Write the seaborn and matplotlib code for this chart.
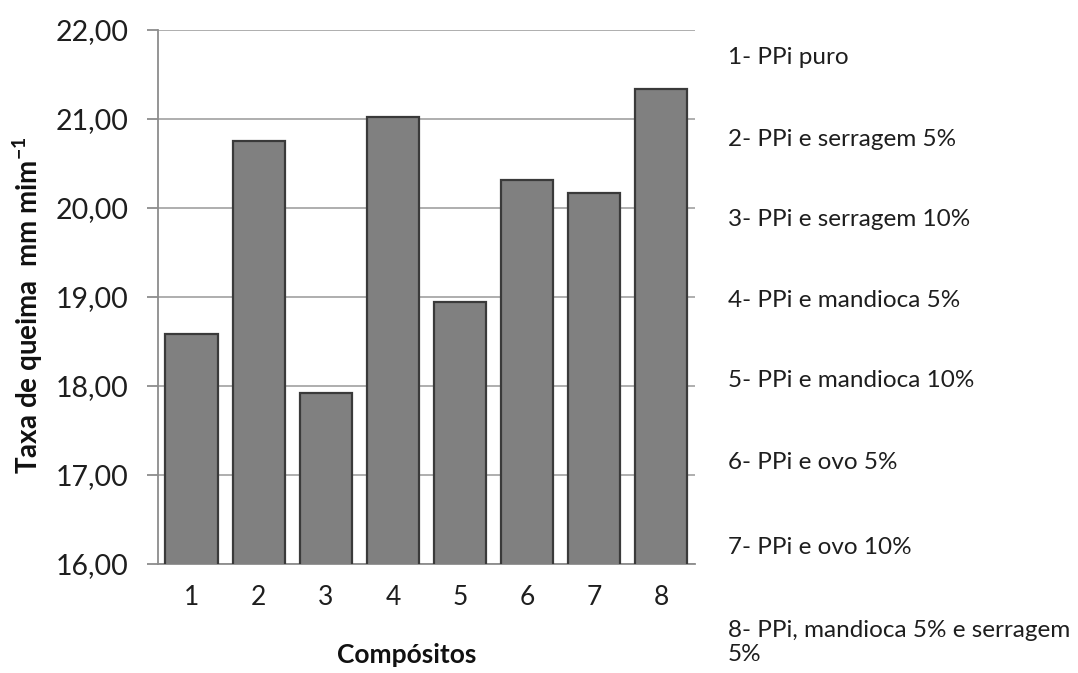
import matplotlib
matplotlib.use("Agg")
import matplotlib.pyplot as plt
import seaborn as sns
import pandas as pd

# data
compositos = ["1", "2", "3", "4", "5", "6", "7", "8"]
taxa = [18.58, 20.75, 17.92, 21.02, 18.94, 20.31, 20.17, 21.34]
descricoes = [
    "1- PPi puro",
    "2- PPi e serragem 5%",
    "3- PPi e serragem 10%",
    "4- PPi e mandioca 5%",
    "5- PPi e mandioca 10%",
    "6- PPi e ovo 5%",
    "7- PPi e ovo 10%",
    "8- PPi, mandioca 5% e serragem\n5%",
]
y_ticks = [16, 17, 18, 19, 20, 21, 22]

df = pd.DataFrame({"Compositos": compositos, "Taxa": taxa})

sns.set_style("white")
plt.rcParams["font.family"] = ["Lato", "DejaVu Sans"]
plt.rcParams["mathtext.fontset"] = "custom"
plt.rcParams["mathtext.rm"] = "Lato"
plt.rcParams["mathtext.bf"] = "Lato:bold"

fig = plt.figure(figsize=(10.78, 6.73), dpi=100)
ax = fig.add_axes([0.1466, 0.162, 0.498, 0.7935])

sns.barplot(data=df, x="Compositos", y="Taxa", color="#808080",
            edgecolor="#3a3a3a", linewidth=1.6, width=0.78,
            saturation=1, ax=ax, zorder=3)

ax.set_ylim(16, 22)
ax.set_yticks(y_ticks)
ax.set_yticklabels([f"{v:.2f}".replace(".", ",") for v in y_ticks])
ax.yaxis.grid(True, color="#a8a8a8", linewidth=1.3, zorder=0)
ax.set_axisbelow(True)

for s in ["top", "right"]:
    ax.spines[s].set_visible(False)
ax.spines["left"].set_color("#8c8c8c")
ax.spines["bottom"].set_color("#8c8c8c")
ax.spines["left"].set_linewidth(1.3)
ax.spines["bottom"].set_linewidth(1.3)

ax.tick_params(axis="y", length=8, width=1.3, color="#8c8c8c",
               labelsize=20.5, labelcolor="#1e1e1e", pad=13, left=True)
ax.tick_params(axis="x", length=0, labelcolor="#1e1e1e", pad=15)
for lab in ax.get_xticklabels():
    lab.set_fontsize(19)

ax.set_ylabel("Taxa de queima  mm mim$^{\\mathbf{-1}}$", fontsize=20,
              fontweight="bold", color="#111111")
ax.yaxis.set_label_coords(-0.21, 0.485)
ax.set_xlabel("Compósitos", fontsize=19, fontweight="bold", color="#111111")
ax.xaxis.set_label_coords(0.464, -0.148)

# descriptive list on the right
y_pos = [0.915, 0.793, 0.674, 0.554, 0.434, 0.313, 0.186, 0.045]
for txt, yp in zip(descricoes, y_pos):
    fig.text(0.675, yp, txt, fontsize=17.5, color="#1e1e1e",
             va="center", ha="left", linespacing=1.15)

fig.savefig("out.png", dpi=100)
